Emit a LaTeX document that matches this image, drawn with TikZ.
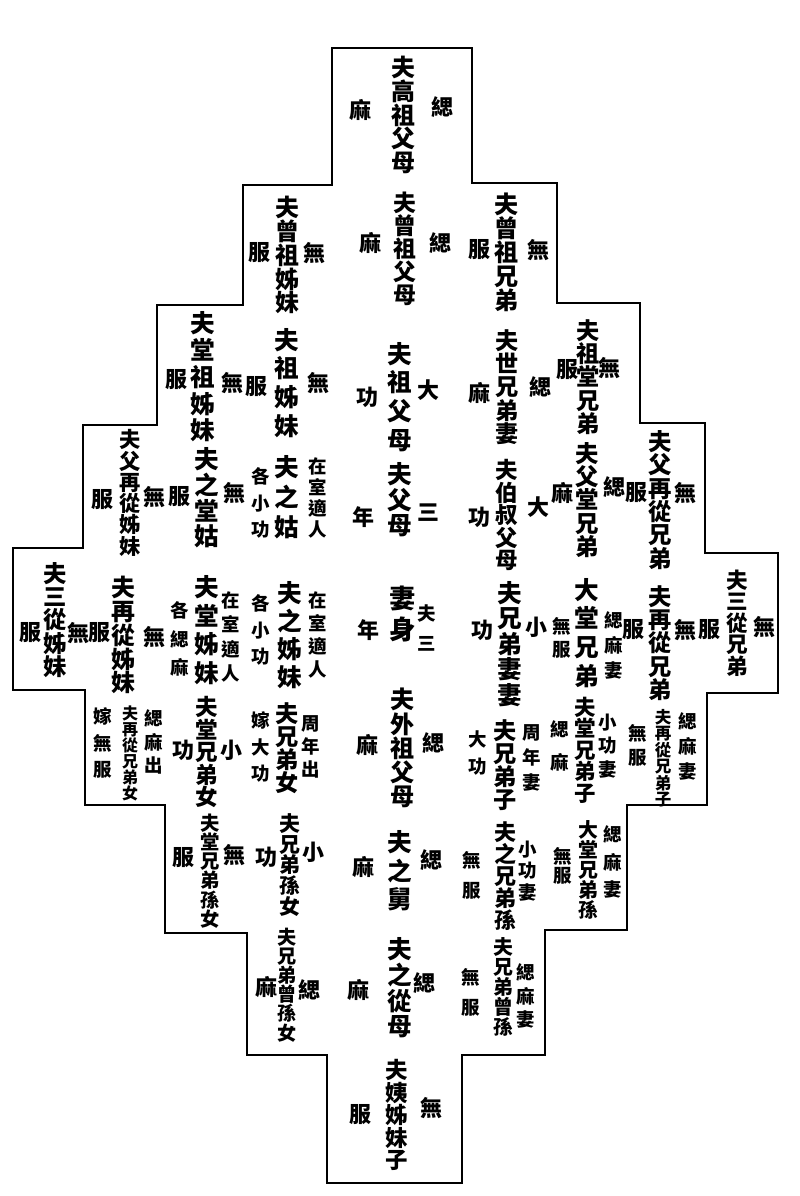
\documentclass[tikz,border=0pt]{standalone}
\usepackage{fontspec}
\newfontfamily\cjk{Noto Sans CJK TC}

\begin{document}
\begin{tikzpicture}[x=0.02cm,y=-0.02cm,
  rel/.style 2 args={font=\cjk\bfseries\fontsize{#1}{#2}\selectfont,align=center,inner sep=0pt},
  grade/.style={font=\cjk\bfseries\fontsize{12.5}{14}\selectfont,inner sep=0pt},
  note/.style={font=\cjk\bfseries\fontsize{10.5}{#1}\selectfont,align=center,inner sep=0pt}]
\useasboundingbox (0,0) rectangle (800,1196);

% outline
\draw[line width=1.6pt] (332,48) -- (472,48) -- (472,183) -- (557,183) -- (557,303)
  -- (640,303) -- (640,423) -- (705,423) -- (705,553) -- (778,553) -- (778,693)
  -- (707,693) -- (707,805) -- (627,805) -- (627,930) -- (545,930) -- (545,1055)
  -- (462,1055) -- (462,1183) -- (327,1183) -- (327,1055) -- (247,1055) -- (247,933)
  -- (165,933) -- (165,805) -- (85,805) -- (85,690) -- (13,690) -- (13,548)
  -- (83,548) -- (83,425) -- (157,425) -- (157,305) -- (243,305) -- (243,185)
  -- (332,185) -- cycle;

% centre column
\node[rel={13.6}{13.6}] (c1) at (403,115) {夫\\高\\祖\\父\\母};
\node[grade] (c1r) at (442,107) {緦};
\node[grade] (c1l) at (360,110) {麻};
\node[rel={13}{13}] (c2) at (405,249) {夫\\曾\\祖\\父\\母};
\node[grade] (c2r) at (440,243) {緦};
\node[grade] (c2l) at (370,243) {麻};
\node[rel={14}{16.4}] (c3) at (400,397) {夫\\祖\\父\\母};
\node[grade] (c3r) at (428,390) {大};
\node[grade] (c3l) at (367,397) {功};
\node[rel={14}{14.5}] (c4) at (400,500) {夫\\父\\母};
\node[grade] (c4r) at (428,513) {三};
\node[grade] (c4l) at (363,517) {年};
\node[rel={15}{18}] (c5) at (403,614) {妻\\身};
\node[note=17] (c5r) at (427,628) {夫\\三};
\node[grade] (c5l) at (368,630) {年};
\node[rel={13.7}{13.7}] (c6) at (403,748) {夫\\外\\祖\\父\\母};
\node[grade] (c6r) at (433,743) {緦};
\node[grade] (c6l) at (367,745) {麻};
\node[rel={14}{16.2}] (c7) at (400,871) {夫\\之\\舅};
\node[grade] (c7r) at (431,860) {緦};
\node[grade] (c7l) at (363,867) {麻};
\node[rel={14}{14.6}] (c8) at (400,988) {夫\\之\\從\\母};
\node[grade] (c8r) at (424,983) {緦};
\node[grade] (c8l) at (358,990) {麻};
\node[rel={12.8}{12.8}] (c9) at (397,1115) {夫\\姨\\姊\\妹\\子};
\node[grade] (c9r) at (431,1108) {無};
\node[grade] (c9l) at (360,1115) {服};

% right side, first column
\node[rel={13.7}{13.7}] (r1) at (507,252) {夫\\曾\\祖\\兄\\弟};
\node[grade] (r1r) at (538,250) {無};
\node[grade] (r1l) at (479,250) {服};
\node[rel={13.2}{13.2}] (r2) at (507,387) {夫\\世\\兄\\弟\\妻};
\node[grade] (r2r) at (540,387) {緦};
\node[grade] (r2l) at (479,393) {麻};
\node[rel={12.8}{12.8}] (r3) at (507,515) {夫\\伯\\叔\\父\\母};
\node[grade] (r3r) at (538,507) {大};
\node[grade] (r3l) at (479,517) {功};
\node[rel={14}{14.5}] (r4) at (510,644) {夫\\兄\\弟\\妻\\妻};
\node[grade] (r4r) at (536,627) {小};
\node[grade] (r4l) at (482,630) {功};
\node[rel={13.2}{13.2}] (r5) at (505,765) {夫\\兄\\弟\\子};
\node[note=14.2] (r5r) at (532,758) {周\\年\\妻};
\node[note=15.3] (r5l) at (478,753) {大\\功};
\node[rel={12.5}{12.5}] (r6) at (505,876) {夫\\之\\兄\\弟\\孫};
\node[note=12.2] (r6r) at (528,871) {小\\功\\妻};
\node[note=17] (r6l) at (472,875) {無\\服};
\node[rel={11.3}{11.3}] (r7) at (503,987) {夫\\兄\\弟\\曾\\孫};
\node[note=13.3] (r7r) at (526,996) {緦\\麻\\妻};
\node[note=17] (r7l) at (471,992) {無\\服};

% right side, second column
\node[rel={13.2}{13.2}] (s1) at (588,377) {夫\\祖\\堂\\兄\\弟};
\node[grade] (s1r) at (609,368) {無};
\node[grade] (s1l) at (567,370) {服};
\node[rel={13.3}{13.3}] (s2) at (587,500) {夫\\父\\堂\\兄\\弟};
\node[grade] (s2r) at (614,487) {緦};
\node[grade] (s2l) at (562,493) {麻};
\node[rel={14}{16.4}] (s3) at (587,633) {大\\堂\\兄\\弟};
\node[note=14.2] (s3r) at (614,645) {緦\\麻\\妻};
\node[note=13] (s3l) at (562,638) {無\\服};
\node[rel={12.2}{12.2}] (s4) at (585,750) {夫\\堂\\兄\\弟\\子};
\node[note=13.3] (s4r) at (608,746) {小\\功\\妻};
\node[note=18.7] (s4l) at (560,746) {緦\\麻};
\node[rel={11.3}{11.3}] (s5) at (588,870) {大\\堂\\兄\\弟\\孫};
\node[note=15.6] (s5r) at (613,862) {緦\\麻\\妻};
\node[note=11] (s5l) at (563,866) {無\\服};

% right side, third and fourth columns
\node[rel={13.3}{13.3}] (t1) at (660,500) {夫\\父\\再\\從\\兄\\弟};
\node[grade] (t1r) at (685,493) {無};
\node[grade] (t1l) at (636,493) {服};
\node[rel={13.2}{13.2}] (t2) at (660,643) {夫\\再\\從\\兄\\弟};
\node[grade] (t2r) at (685,630) {無};
\node[grade] (t2l) at (633,630) {服};
\node[rel={9.4}{9.4}] (t3) at (663,758) {夫\\再\\從\\兄\\弟\\子};
\node[note=14.2] (t3r) at (688,746) {緦\\麻\\妻};
\node[note=13.6] (t3l) at (638,745) {無\\服};
\node[rel={12.3}{12.3}] (u1) at (737,623) {夫\\三\\從\\兄\\弟};
\node[grade] (u1r) at (764,627) {無};
\node[grade] (u1l) at (709,630) {服};

% left side, first column
\node[rel={13.6}{13.6}] (l1) at (287,255) {夫\\曾\\祖\\姊\\妹};
\node[grade] (l1r) at (314,253) {無};
\node[grade] (l1l) at (259,253) {服};
\node[rel={14}{16.4}] (l2) at (287,383) {夫\\祖\\姊\\妹};
\node[grade] (l2r) at (318,383) {無};
\node[grade] (l2l) at (256,387) {服};
\node[rel={14}{17}] (l3) at (287,497) {夫\\之\\姑};
\node[note=11.9] (l3r) at (318,498) {在\\室\\適\\人};
\node[note=15] (l3l) at (261,503) {各\\小\\功};
\node[rel={14}{15.9}] (l4) at (290,635) {夫\\之\\姊\\妹};
\node[note=13.2] (l4r) at (318,635) {在\\室\\適\\人};
\node[note=15.3] (l4l) at (261,630) {各\\小\\功};
\node[rel={13.2}{13.2}] (l5) at (287,748) {夫\\兄\\弟\\女};
\node[note=13.3] (l5r) at (311,747) {周\\年\\出};
\node[note=15] (l5l) at (261,747) {嫁\\大\\功};
\node[rel={11.9}{11.9}] (l6) at (290,865) {夫\\兄\\弟\\孫\\女};
\node[grade] (l6r) at (313,852) {小};
\node[grade] (l6l) at (266,857) {功};
\node[rel={10.9}{10.9}] (l7) at (287,985) {夫\\兄\\弟\\曾\\孫\\女};
\node[grade] (l7r) at (309,990) {緦};
\node[grade] (l7l) at (266,987) {麻};

% left side, second column
\node[rel={14}{15.2}] (m1) at (203,377) {夫\\堂\\祖\\姊\\妹};
\node[grade] (m1r) at (232,383) {無};
\node[grade] (m1l) at (176,380) {服};
\node[rel={14}{14.6}] (m2) at (207,498) {夫\\之\\堂\\姑};
\node[grade] (m2r) at (234,493) {無};
\node[grade] (m2l) at (179,497) {服};
\node[rel={14}{16.2}] (m3) at (207,630) {夫\\堂\\姊\\妹};
\node[note=13.8] (m3r) at (231,637) {在\\室\\適\\人};
\node[note=16.2] (m3l) at (180,639) {各\\緦\\麻};
\node[rel={12.8}{12.8}] (m4) at (207,752) {夫\\堂\\兄\\弟\\女};
\node[grade] (m4r) at (231,750) {小};
\node[grade] (m4l) at (183,750) {功};
\node[rel={11}{11}] (m5) at (210,871) {夫\\堂\\兄\\弟\\孫\\女};
\node[grade] (m5r) at (234,855) {無};
\node[grade] (m5l) at (183,858) {服};

% left side, third and fourth columns
\node[rel={12.1}{12.1}] (p1) at (130,493) {夫\\父\\再\\從\\姊\\妹};
\node[grade] (p1r) at (154,497) {無};
\node[grade] (p1l) at (102,500) {服};
\node[rel={13.6}{13.6}] (p2) at (123,635) {夫\\再\\從\\姊\\妹};
\node[grade] (p2r) at (154,637) {無};
\node[grade] (p2l) at (99,633) {服};
\node[rel={9.1}{9.1}] (p3) at (130,753) {夫\\再\\從\\兄\\弟\\女};
\node[note=13.3] (p3r) at (154,742) {緦\\麻\\出};
\node[note=15] (p3l) at (103,743) {嫁\\無\\服};
\node[rel={13.3}{13.3}] (q1) at (55,620) {夫\\三\\從\\姊\\妹};
\node[grade] (q1r) at (78,633) {無};
\node[grade] (q1l) at (30,633) {服};
\end{tikzpicture}
\end{document}
